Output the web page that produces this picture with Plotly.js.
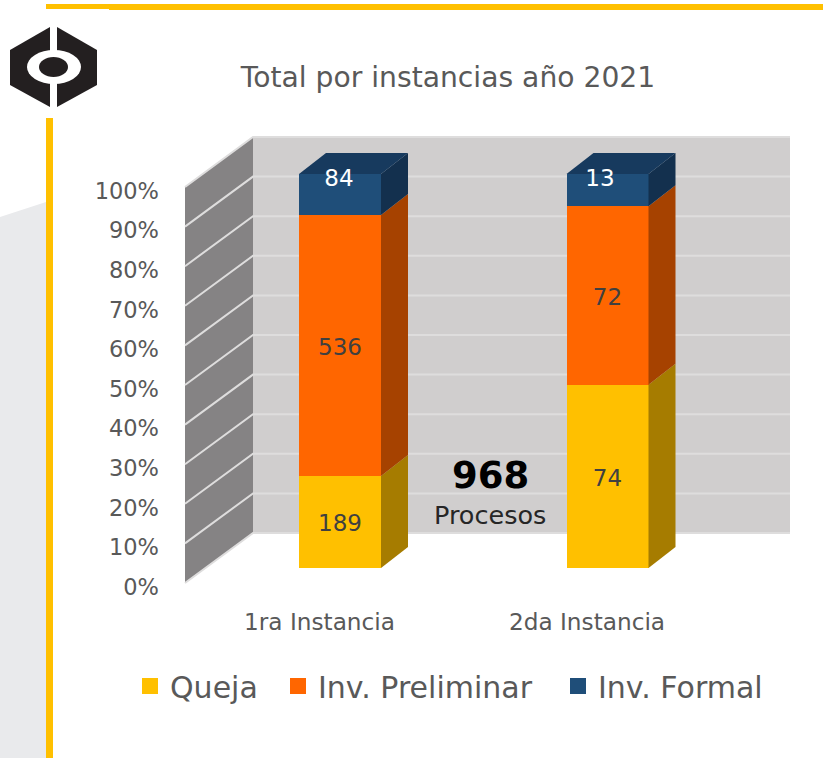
<!DOCTYPE html>
<html>
<head>
<meta charset="utf-8">
<script src="https://cdn.plot.ly/plotly-3.0.1.min.js"></script>
<style>html,body{margin:0;padding:0;background:#fff}#chart{width:823px;height:758px}</style>
</head>
<body>
<div id="chart"></div>
<script>
// ---- Data ----
const categories = ['1ra Instancia', '2da Instancia'];
const queja = [189, 74];
const preliminar = [536, 72];
const formal = [84, 13];
const seriesNames = ['Queja', 'Inv. Preliminar', 'Inv. Formal'];
const percentTicks = [0, 10, 20, 30, 40, 50, 60, 70, 80, 90, 100];
const percentLabels = ['0%', '10%', '20%', '30%', '40%', '50%', '60%', '70%', '80%', '90%', '100%'];
const chartTitle = 'Total por instancias año 2021';
const totalValue = '968';
const totalLabel = 'Procesos';

// ---- Style ----
const W = 823, H = 758;
const FONT = '"DejaVu Sans", sans-serif';
const frontColors = ['#FFC000', '#FF6600', '#1F4E79'];
const sideColors = ['#A67C00', '#A64200', '#13304E'];
const topColor = '#173A5E';
const TXT = '#595959';

// pixel layout of the plot box
const box = {l: 160, r: 800, t: 125, b: 605};
const xScale = 267.5;           // px per category step
const tickX0 = 319.5, barX0 = 340;
const wallY0 = 583, wallScale = 3.96;
const barY0 = 568, barScale = 3.94;
const barWidth = 82 / xScale;
const barDX = 27 / xScale, barDY = 21 / barScale;
const wallLeft = (185 - tickX0) / xScale, wallDX = 68 / xScale;
const wallRight = (790 - tickX0) / xScale, wallDY = 50 / wallScale;

const px = v => v / W, py = v => 1 - v / H;
const xIdx = categories.map((c, i) => i);
const series = [queja, preliminar, formal];
const totals = xIdx.map(i => queja[i] + preliminar[i] + formal[i]);

const traces = [];
// walls
traces.push({type: 'scatter', mode: 'lines', fill: 'toself', fillcolor: '#D0CECE', line: {width: 0},
  x: [wallLeft + wallDX, wallRight, wallRight, wallLeft + wallDX, wallLeft + wallDX],
  y: [wallDY, wallDY, 100 + wallDY, 100 + wallDY, wallDY], showlegend: false, hoverinfo: 'skip'});
traces.push({type: 'scatter', mode: 'lines', fill: 'toself', fillcolor: '#858384', line: {width: 0},
  x: [wallLeft, wallLeft + wallDX, wallLeft + wallDX, wallLeft, wallLeft],
  y: [0, wallDY, 100 + wallDY, 100, 0], showlegend: false, hoverinfo: 'skip'});
// grid lines on both walls
const gx = [], gy = [];
percentTicks.forEach(t => {
  gx.push(wallLeft, wallLeft + wallDX, wallRight, null);
  gy.push(t, t + wallDY, t + wallDY, null);
});
traces.push({type: 'scatter', mode: 'lines', x: gx, y: gy, line: {color: '#DEDDDD', width: 2},
  showlegend: false, hoverinfo: 'skip'});
// legend entries
seriesNames.forEach((n, k) => {
  traces.push({type: 'scatter', mode: 'markers', x: [null], y: [null], name: n,
    marker: {symbol: 'square', size: 16, color: frontColors[k]},
    legendwidth: [103, 235, 170][k], hoverinfo: 'skip'});
});
// front faces
series.forEach((vals, k) => {
  traces.push({type: 'bar', x: xIdx, y: vals, name: seriesNames[k], width: barWidth,
    xaxis: 'x2', yaxis: 'y2', marker: {color: frontColors[k], line: {width: 0}},
    showlegend: false, hoverinfo: 'x+y+name'});
});
// side + top faces, from the same stacked shares
xIdx.forEach(i => {
  let cum = 0;
  const xr = i + barWidth / 2, xl = i - barWidth / 2;
  series.forEach((vals, k) => {
    const b = cum / totals[i] * 100;
    cum += vals[i];
    const t = cum / totals[i] * 100;
    traces.push({type: 'scatter', mode: 'lines', fill: 'toself', fillcolor: sideColors[k], line: {width: 0},
      x: [xr, xr + barDX, xr + barDX, xr, xr], y: [b, b + barDY, t + barDY, t, b],
      xaxis: 'x2', yaxis: 'y2', showlegend: false, hoverinfo: 'skip'});
  });
  traces.push({type: 'scatter', mode: 'lines', fill: 'toself', fillcolor: topColor, line: {width: 0},
    x: [xl, xr, xr + barDX, xl + barDX, xl], y: [100, 100, 100 + barDY, 100 + barDY, 100],
    xaxis: 'x2', yaxis: 'y2', showlegend: false, hoverinfo: 'skip'});
});
// value labels
const topLabelY = 99.2, topLabelX = [-0.004, -0.028], labelNudge = -0.9;
series.forEach((vals, k) => {
  const ys = xIdx.map(i => {
    if (k === 2) return topLabelY + labelNudge;
    let below = 0;
    for (let j = 0; j < k; j++) below += series[j][i];
    return (below + vals[i] / 2) / totals[i] * 100 + labelNudge;
  });
  traces.push({type: 'scatter', mode: 'text', x: xIdx.map(i => k === 2 ? i + topLabelX[i] : i), y: ys,
    text: vals.map(String), textposition: 'middle center',
    textfont: {family: FONT, size: 23, color: k === 2 ? '#FFFFFF' : '#404040'},
    xaxis: 'x2', yaxis: 'y2', showlegend: false, hoverinfo: 'skip'});
});

const layout = {
  width: W, height: H,
  margin: {l: 0, r: 0, t: 0, b: 0, pad: 0, autoexpand: false},
  paper_bgcolor: '#FFFFFF', plot_bgcolor: 'rgba(0,0,0,0)',
  font: {family: FONT, color: TXT},
  barmode: 'stack', barnorm: 'percent',
  title: {text: chartTitle, font: {family: FONT, size: 28.2, color: TXT},
    x: 448 / W, xanchor: 'center', y: 1 - 77 / H, yanchor: 'middle', xref: 'paper', yref: 'paper'},
  xaxis: {domain: [px(box.l), px(box.r)], range: [(box.l - tickX0) / xScale, (box.r - tickX0) / xScale],
    tickmode: 'array', tickvals: xIdx, ticktext: categories, ticks: '', showgrid: false, zeroline: false,
    showline: false, tickfont: {family: FONT, size: 23.2, color: TXT}, ticklabelstandoff: 1, anchor: 'y', fixedrange: true},
  yaxis: {domain: [py(box.b), py(box.t)], range: [(wallY0 - box.b) / wallScale, (wallY0 - box.t) / wallScale],
    tickmode: 'array', tickvals: percentTicks, ticktext: percentLabels, ticks: '', showgrid: false, zeroline: false,
    showline: false, tickfont: {family: FONT, size: 22.5, color: TXT}, ticklabelshift: 4, anchor: 'x', fixedrange: true},
  xaxis2: {domain: [px(box.l), px(box.r)], range: [(box.l - barX0) / xScale, (box.r - barX0) / xScale],
    overlaying: 'x', visible: false, anchor: 'y2', fixedrange: true},
  yaxis2: {domain: [py(box.b), py(box.t)], range: [(barY0 - box.b) / barScale, (barY0 - box.t) / barScale],
    overlaying: 'y', visible: false, anchor: 'x2', fixedrange: true},
  legend: {orientation: 'h', traceorder: 'normal', x: 130 / W, xanchor: 'left', y: py(686), yanchor: 'middle',
    font: {family: FONT, size: 30, color: TXT}, bgcolor: 'rgba(0,0,0,0)', itemclick: false, itemdoubleclick: false},
  showlegend: true,
  annotations: [
    {xref: 'paper', yref: 'paper', x: px(490), y: py(475), xanchor: 'center', yanchor: 'middle', showarrow: false,
      text: '<b>' + totalValue + '</b>', font: {family: FONT, size: 37, color: '#000000'}},
    {xref: 'paper', yref: 'paper', x: px(490), y: py(515), xanchor: 'center', yanchor: 'middle', showarrow: false,
      text: totalLabel, font: {family: FONT, size: 25.5, color: '#262626'}}
  ],
  shapes: decor()
};

function poly(pts) {
  return 'M' + pts.map(p => px(p[0]) + ',' + py(p[1])).join('L') + 'Z';
}
function decor() {
  const paper = {xref: 'paper', yref: 'paper', layer: 'below'};
  const s = [];
  // pale background sweep on the left
  s.push({...paper, type: 'path', line: {width: 0}, fillcolor: '#E9EAEC',
    path: 'M' + px(0) + ',' + py(217) + 'L' + px(46) + ',' + py(202) +
          'L' + px(46) + ',' + py(758) + 'L' + px(0) + ',' + py(758) + 'Z'});
  // accent rules
  s.push({...paper, type: 'rect', x0: px(46), x1: px(53), y0: py(118), y1: py(758), fillcolor: '#FFC000', line: {width: 0}});
  s.push({...paper, type: 'rect', x0: px(46), x1: px(109), y0: py(4), y1: py(9), fillcolor: '#FFC000', line: {width: 0}});
  s.push({...paper, type: 'rect', x0: px(109), x1: px(823), y0: py(4), y1: py(10), fillcolor: '#FFC000', line: {width: 0}});
  // logo
  const dark = '#231F20';
  s.push({...paper, type: 'path', line: {width: 0}, fillcolor: dark, path: poly([[50, 27], [10, 50], [10, 85], [50, 107]])});
  s.push({...paper, type: 'path', line: {width: 0}, fillcolor: dark, path: poly([[57, 27], [97, 50], [97, 85], [57, 107]])});
  s.push({...paper, type: 'circle', x0: px(27), x1: px(81), y0: py(50), y1: py(84), fillcolor: '#FFFFFF', line: {width: 0}});
  s.push({...paper, type: 'circle', x0: px(39), x1: px(68), y0: py(57), y1: py(77), fillcolor: dark, line: {width: 0}});
  return s;
}

Plotly.newPlot('chart', traces, layout, {displayModeBar: false, responsive: false});
</script>
</body>
</html>
